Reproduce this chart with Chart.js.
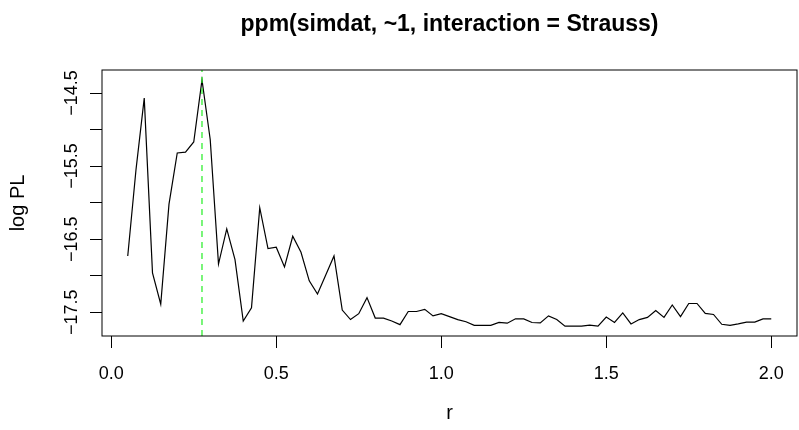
<!DOCTYPE html>
<html>
<head>
<meta charset="utf-8">
<script src="https://cdn.jsdelivr.net/npm/chart.js@4"></script>
<style>
    body { margin: 0; background: #fff; overflow: hidden; }
    #wrap { width: 799px; height: 430px; }
</style>
</head>
<body>
<div id="wrap"><canvas id="profileChart" width="799" height="430"></canvas></div>
<script>
// Данные: r и значения log PL
const rValues = [
    0.05, 0.075, 0.1, 0.125, 0.15, 0.175, 0.2, 0.225, 0.25, 0.275,
    0.3, 0.325, 0.35, 0.375, 0.4, 0.425, 0.45, 0.475, 0.5, 0.525,
    0.55, 0.575, 0.6, 0.625, 0.65, 0.675, 0.7, 0.725, 0.75, 0.775,
    0.8, 0.825, 0.85, 0.875, 0.9, 0.925, 0.95, 0.975, 1.0, 1.025,
    1.05, 1.075, 1.1, 1.125, 1.15, 1.175, 1.2, 1.225, 1.25, 1.275,
    1.3, 1.325, 1.35, 1.375, 1.4, 1.425, 1.45, 1.475, 1.5, 1.525,
    1.55, 1.575, 1.6, 1.625, 1.65, 1.675, 1.7, 1.725, 1.75, 1.775,
    1.8, 1.825, 1.85, 1.875, 1.9, 1.925, 1.95, 1.975, 2.0
];
const logPL = [
    -16.73, -15.55, -14.57, -16.96, -17.39, -16.02, -15.32, -15.31, -15.17, -14.32,
    -15.14, -16.84, -16.36, -16.78, -17.62, -17.44, -16.07, -16.63, -16.61, -16.88,
    -16.46, -16.68, -17.07, -17.25, -16.99, -16.73, -17.47, -17.60, -17.52, -17.30,
    -17.58, -17.58, -17.62, -17.67, -17.49, -17.49, -17.46, -17.55, -17.52, -17.56,
    -17.60, -17.63, -17.68, -17.68, -17.68, -17.64, -17.65, -17.59, -17.59, -17.64,
    -17.645, -17.55, -17.60, -17.69, -17.69, -17.69, -17.675, -17.69, -17.565, -17.64,
    -17.51, -17.66, -17.60, -17.57, -17.475, -17.57, -17.40, -17.56, -17.38, -17.38,
    -17.515, -17.53, -17.665, -17.68, -17.66, -17.635, -17.635, -17.59, -17.59
];
const rOptimal = [0.275];

// Оси
const xLimits = [-0.028, 2.078];
const yLimits = [-17.825, -14.185];
const xTicks = [0, 0.5, 1.0, 1.5, 2.0];
const xTickLabels = ['0.0', '0.5', '1.0', '1.5', '2.0'];
const yTicks = [-17.5, -17.0, -16.5, -16.0, -15.5, -15.0, -14.5];
const yTickLabels = ['\u221217.5', '', '\u221216.5', '', '\u221215.5', '', '\u221214.5'];

const fontFamily = '"Liberation Sans", Arial, Helvetica, sans-serif';

// Рамка вокруг области графика (как box() в R)
const boxPlugin = {
    id: 'boxPlugin',
    afterDraw(chart) {
        const ctx = chart.ctx;
        const a = chart.chartArea;
        ctx.save();
        ctx.strokeStyle = '#000';
        ctx.lineWidth = 1;
        ctx.strokeRect(a.left, a.top, a.right - a.left, a.bottom - a.top);
        ctx.restore();
    }
};

function drawChart() {
    const ctx = document.getElementById('profileChart').getContext('2d');
    const points = rValues.map((r, i) => ({ x: r, y: logPL[i] }));
    const vLine = [
        { x: rOptimal[0], y: yLimits[0] },
        { x: rOptimal[0], y: yLimits[1] }
    ];

    new Chart(ctx, {
        type: 'line',
        data: {
            datasets: [{
                data: points,
                borderColor: '#000',
                borderWidth: 1.2,
                pointRadius: 0,
                tension: 0,
                order: 1
            }, {
                data: vLine,
                borderColor: '#22ee22',
                borderWidth: 1.2,
                borderDash: [6, 5],
                pointRadius: 0,
                order: 0
            }]
        },
        options: {
            responsive: false,
            animation: false,
            devicePixelRatio: 1,
            layout: { padding: { left: 0, right: 2, top: 0, bottom: 0 } },
            plugins: {
                legend: { display: false },
                tooltip: { enabled: false },
                title: {
                    display: true,
                    fullSize: false,
                    text: 'ppm(simdat, ~1, interaction = Strauss)',
                    color: '#000',
                    font: { family: fontFamily, size: 23, weight: 'bold' },
                    padding: { top: 11, bottom: 31.4 }
                }
            },
            scales: {
                x: {
                    type: 'linear',
                    min: xLimits[0],
                    max: xLimits[1],
                    afterBuildTicks: (s) => { s.ticks = xTicks.map(v => ({ value: v })); },
                    afterFit: (s) => { s.height = 94; },
                    border: { display: false },
                    grid: {
                        drawOnChartArea: false,
                        drawTicks: true,
                        tickLength: 12,
                        color: '#000',
                        lineWidth: 1
                    },
                    ticks: {
                        autoSkip: false,
                        maxRotation: 0,
                        padding: 15,
                        color: '#000',
                        font: { family: fontFamily, size: 18 },
                        callback: (v, i) => xTickLabels[i]
                    },
                    title: {
                        display: true,
                        text: 'r',
                        color: '#000',
                        font: { family: fontFamily, size: 20 },
                        padding: { top: 0, bottom: 5 }
                    }
                },
                y: {
                    type: 'linear',
                    min: yLimits[0],
                    max: yLimits[1],
                    afterBuildTicks: (s) => { s.ticks = yTicks.map(v => ({ value: v })); },
                    afterFit: (s) => { s.width = 102; },
                    border: { display: false },
                    grid: {
                        drawOnChartArea: false,
                        drawTicks: true,
                        tickLength: 12,
                        color: '#000',
                        lineWidth: 1
                    },
                    ticks: {
                        autoSkip: false,
                        minRotation: 90,
                        maxRotation: 90,
                        crossAlign: 'center',
                        padding: -5,
                        color: '#000',
                        font: { family: fontFamily, size: 18 },
                        callback: (v, i) => yTickLabels[i]
                    },
                    title: {
                        display: true,
                        text: 'log PL',
                        color: '#000',
                        font: { family: fontFamily, size: 20 },
                        padding: { top: 6, bottom: 0 }
                    }
                }
            }
        },
        plugins: [boxPlugin]
    });
}

drawChart();
</script>
</body>
</html>
